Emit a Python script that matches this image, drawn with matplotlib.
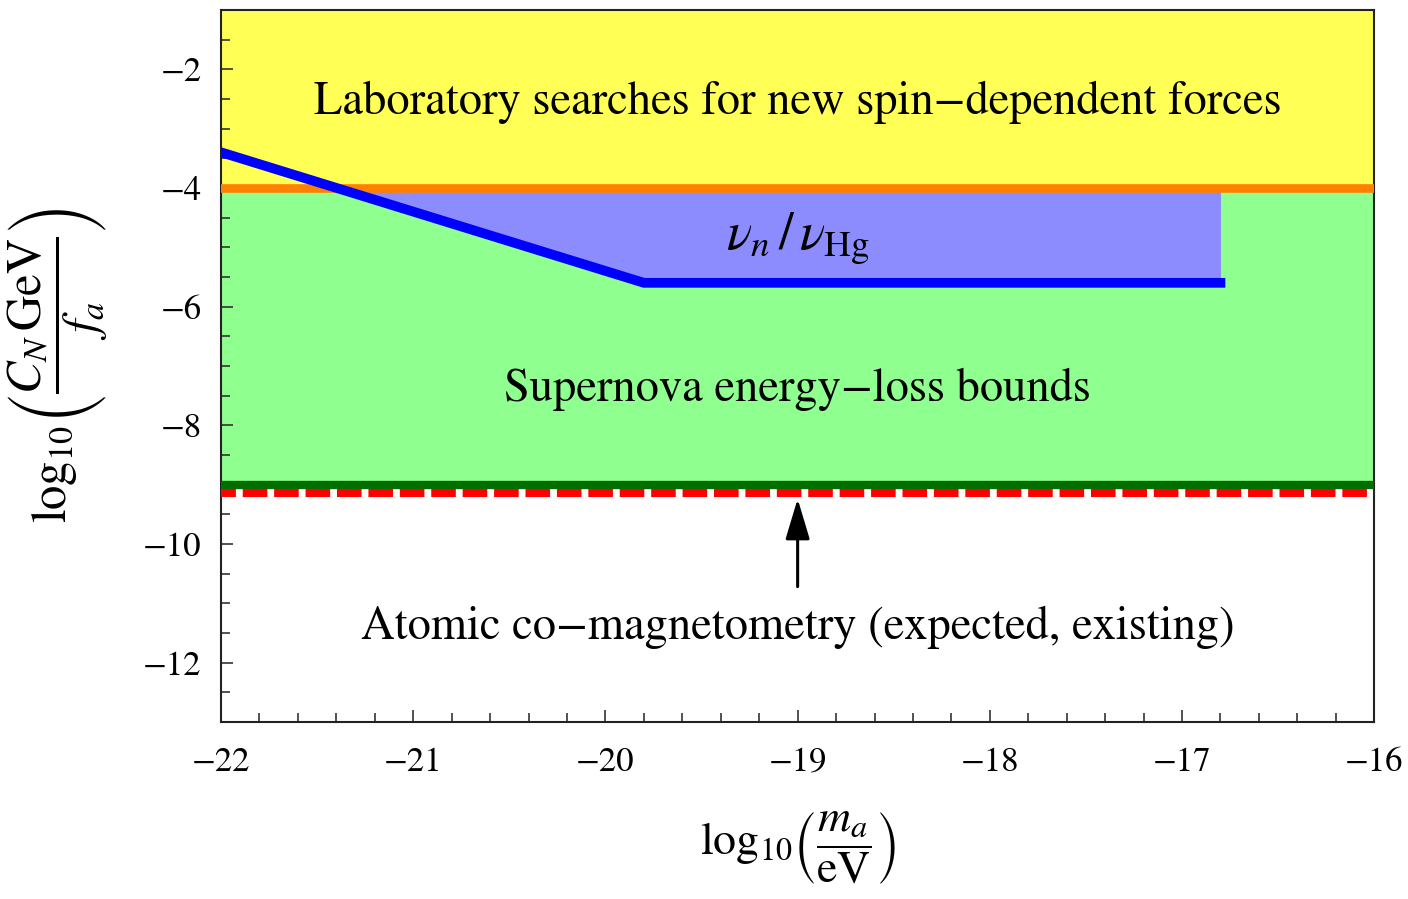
import matplotlib
matplotlib.use("Agg")
import matplotlib.pyplot as plt
import numpy as np
from matplotlib.ticker import MultipleLocator

plt.rcParams["font.family"] = "STIXGeneral"
plt.rcParams["mathtext.fontset"] = "stix"

# exclusion boundaries in log10(C_N GeV / f_a)
lab_bound = -4.0
sn_bound = -9.0
comag_bound = -9.14
y_top = -1.0

# nu_n / nu_Hg limit
nu_x = np.array([-22.0, -19.8, -16.8])
nu_y = np.array([-3.4, -5.6, -5.6])

arrow_x = -19.0
arrow_from = -10.72
arrow_to = -9.24

fig = plt.figure(figsize=(14.08, 8.99), dpi=100)
ax = fig.add_axes([0.157, 0.197, 0.819, 0.792])
ax.set_xlim(-22, -16)
ax.set_ylim(-13, -1)

ax.axhspan(lab_bound, y_top, color="#ffff55", lw=0, zorder=1)
ax.axhspan(sn_bound, lab_bound, color="#8fff8f", lw=0, zorder=1)
ax.fill_between(nu_x, nu_y, lab_bound, where=nu_y <= lab_bound,
                interpolate=True, color="#8c8cff", lw=0, zorder=2)

ax.axhline(lab_bound, color="#ff8000", lw=6.2, zorder=3)
ax.axhline(sn_bound, color="#006f00", lw=6.0, zorder=3)
ax.axhline(comag_bound, color="#ff0000", lw=5.8,
           linestyle=(1.2, (3.05, 0.85)), zorder=3)
ax.plot(nu_x, nu_y, color="#0000ff", lw=7, solid_capstyle="projecting",
        solid_joinstyle="miter", zorder=4)

ax.annotate("", xy=(arrow_x, arrow_to), xytext=(arrow_x, arrow_from),
            arrowprops=dict(arrowstyle="-|>,head_length=2.5,head_width=0.75",
                            color="black", lw=2.2, shrinkA=0, shrinkB=0),
            zorder=5)

tsize = 33.5
ax.text(-19.0, -2.55, "Laboratory searches for new spin\u2212dependent forces",
        ha="center", va="center", fontsize=tsize, zorder=6)
ax.text(-19.0, -4.85, r"$\nu_n\,/\,\nu_{\mathrm{Hg}}$",
        ha="center", va="center", fontsize=38, zorder=6)
ax.text(-19.0, -7.4, "Supernova energy\u2212loss bounds",
        ha="center", va="center", fontsize=tsize, zorder=6)
ax.text(-19.0, -11.4, "Atomic co\u2212magnetometry (expected, existing)",
        ha="center", va="center", fontsize=tsize, zorder=6)

ax.xaxis.set_major_locator(MultipleLocator(1))
ax.xaxis.set_minor_locator(MultipleLocator(0.2))
ax.yaxis.set_major_locator(MultipleLocator(2))
ax.yaxis.set_minor_locator(MultipleLocator(0.5))
ax.tick_params(which="both", direction="in", top=False, right=False,
               labelsize=25, width=1.2, color="#333333")
ax.tick_params(which="major", length=8.6)
ax.tick_params(axis="x", which="major", pad=18)
ax.tick_params(axis="y", which="major", pad=14)
ax.tick_params(which="minor", length=6.2)
for s in ax.spines.values():
    s.set_linewidth(1.5)
    s.set_color("#222222")

ax.set_xlabel(r"$\log_{10}\!\left(\dfrac{m_a}{\mathrm{eV}}\right)$",
              fontsize=33, labelpad=22)
ax.set_ylabel(r"$\log_{10}\!\left(\dfrac{C_N\,\mathrm{GeV}}{f_a}\right)$",
              fontsize=35, labelpad=24)

fig.savefig("out.png", dpi=100)
